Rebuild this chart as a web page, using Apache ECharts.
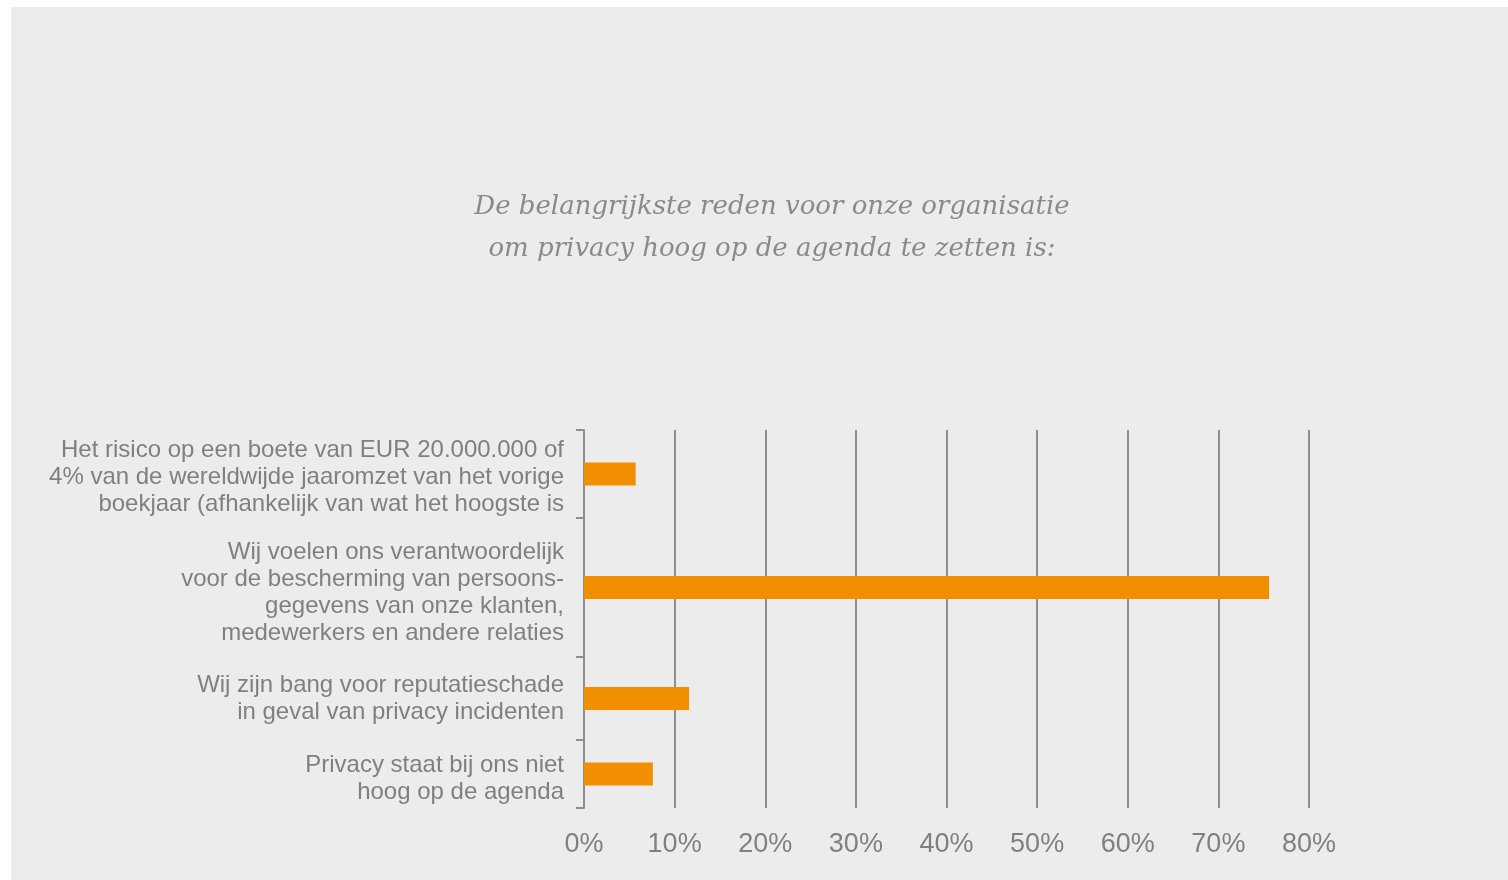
<!DOCTYPE html>
<html>
<head>
<meta charset="utf-8">
<title>Privacy hoog op de agenda</title>
<script src="https://cdn.jsdelivr.net/npm/echarts@6/dist/echarts.min.js"></script>
<style>
  html, body { margin: 0; padding: 0; background: #ffffff; }
  .panel { position: absolute; left: 11px; top: 7px; right: 0; bottom: 0; background: #ececec; }
  #chart { position: absolute; left: 0; top: 0; width: 1508px; height: 880px; }
</style>
</head>
<body>
<div class="panel"></div>
<div id="chart"></div>
<script>
// antwoorden (y-as) en percentages
const categories = [
  'Het risico op een boete van EUR 20.000.000 of\n4% van de wereldwijde jaaromzet van het vorige\nboekjaar (afhankelijk van wat het hoogste is',
  'Wij voelen ons verantwoordelijk\nvoor de bescherming van persoons-\ngegevens van onze klanten,\nmedewerkers en andere relaties',
  'Wij zijn bang voor reputatieschade\nin geval van privacy incidenten',
  'Privacy staat bij ons niet\nhoog op de agenda'
]
const values = [5.7, 75.6, 11.6, 7.6]
const xMin = 0
const xMax = 80
const xStep = 10

const titleText = 'De belangrijkste reden voor onze organisatie\nom privacy hoog op de agenda te zetten is:'

const gray = '#8e8e8e'
const labelColor = '#808080'
const barColor = '#f28f00'

// ieder antwoord krijgt een eigen strook, de stroken zijn niet even hoog
// shift = hoeveel het label iets lager staat dan het midden van de strook
const bands = [
  { top: 430, height: 88, shift: 3 },
  { top: 518, height: 139, shift: 5 },
  { top: 657, height: 83, shift: 0 },
  { top: 740, height: 68, shift: 5 }
]

const chart = echarts.init(document.getElementById('chart'))

const grid = [], xAxis = [], yAxis = [], series = []
categories.forEach(function(cat, i) {
  const last = i === categories.length - 1
  const shift = bands[i].shift
  grid.push({ left: 584, right: 199, top: bands[i].top, height: bands[i].height })
  xAxis.push({
    type: 'value',
    gridIndex: i,
    min: xMin,
    max: xMax,
    interval: xStep,
    axisLine: { show: false },
    axisTick: { show: false },
    splitLine: { show: true, lineStyle: { color: gray, width: 2 } },
    axisLabel: {
      show: last,
      formatter: '{value}%',
      color: labelColor,
      fontSize: 27,
      fontFamily: 'Liberation Sans, Arial, sans-serif',
      margin: 23
    }
  })
  yAxis.push({
    type: 'category',
    gridIndex: i,
    data: [cat],
    axisLine: { show: true, lineStyle: { color: gray, width: 2 } },
    axisTick: { show: true, length: 8, lineStyle: { color: gray, width: 2 } },
    axisLabel: {
      color: labelColor,
      fontSize: 24,
      lineHeight: 27,
      fontFamily: 'Liberation Sans, Arial, sans-serif',
      margin: 20,
      // lege regel bovenaan schuift het blok een paar pixels omlaag
      formatter: function(v) {
        return shift ? '{gap| }\n' + v : v
      },
      rich: {
        gap: { fontSize: 1, lineHeight: shift * 2, height: shift * 2 }
      }
    }
  })
  series.push({
    type: 'bar',
    xAxisIndex: i,
    yAxisIndex: i,
    data: [values[i]],
    barWidth: 23,
    itemStyle: { color: barColor },
    silent: true
  })
})

const option = {
  animation: false,
  title: {
    text: titleText,
    left: 772,
    top: 186,
    textAlign: 'center',
    padding: 0,
    textStyle: {
      color: '#8a8a8a',
      fontFamily: 'DejaVu Serif',
      fontStyle: 'italic',
      fontWeight: 'normal',
      fontSize: 26,
      lineHeight: 42
    }
  },
  grid,
  xAxis,
  yAxis,
  series
}
chart.setOption(option)
</script>
</body>
</html>
